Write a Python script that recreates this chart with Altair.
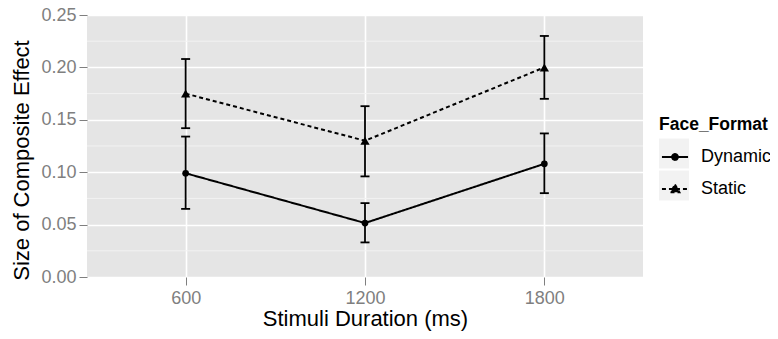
import altair as alt
import pandas as pd

durations = ["600", "1200", "1800"]
formats = ["Dynamic", "Static"]
dynamic_mean = [0.099, 0.0515, 0.108]
dynamic_low = [0.065, 0.033, 0.080]
dynamic_high = [0.134, 0.0705, 0.137]
static_mean = [0.175, 0.130, 0.200]
static_low = [0.142, 0.096, 0.170]
static_high = [0.208, 0.163, 0.230]
y_ticks = [0, 0.05, 0.10, 0.15, 0.20, 0.25]
y_minor = [0.025, 0.075, 0.125, 0.175, 0.225]

rows = []
for fmt, means, lows, highs in [
    ("Dynamic", dynamic_mean, dynamic_low, dynamic_high),
    ("Static", static_mean, static_low, static_high),
]:
    for d, m, lo, hi in zip(durations, means, lows, highs):
        rows.append({"duration": d, "format": fmt, "marker": fmt, "key": fmt,
                     "mean": m, "low": lo, "high": hi})
df = pd.DataFrame(rows)
minor_df = pd.DataFrame({"v": y_minor})

FONT = "Liberation Sans"
GREY = "#7F7F7F"
LEG_X = 572
LEG_Y = 101

x_enc = alt.X(
    "duration:O",
    sort=durations,
    scale=alt.Scale(type="point", padding=0.55),
    axis=alt.Axis(
        title="Stimuli Duration (ms)",
        labelAngle=0,
        grid=True,
        gridColor="white",
        gridWidth=1.6,
        domain=False,
        tickColor=GREY,
        tickSize=8,
        tickWidth=1,
        labelColor=GREY,
        labelFontSize=18,
        labelFont=FONT,
        labelPadding=4,
        titleFont=FONT,
        titleFontSize=22,
        titleFontWeight="normal",
        titleColor="black",
        titlePadding=1,
    ),
)
y_scale = alt.Scale(domain=[0, 0.25], nice=False, zero=True)
y_axis = alt.Axis(
    title="Size of Composite Effect",
    values=y_ticks,
    format=".2f",
    grid=True,
    gridColor="white",
    gridWidth=1.6,
    domain=False,
    tickColor=GREY,
    tickSize=8,
    tickWidth=1,
    labelColor=GREY,
    labelFontSize=18,
    labelFont=FONT,
    labelPadding=3,
    titleFont=FONT,
    titleFontSize=22,
    titleFontWeight="normal",
    titleColor="black",
    titlePadding=7,
    titleY=145,
)

base = alt.Chart(df)

minor = alt.Chart(minor_df).mark_rule(color="#F2F2F2", strokeWidth=1).encode(
    y=alt.Y("v:Q", scale=y_scale, axis=y_axis)
)

# invisible layer that only supplies the grey legend key backgrounds
keys = base.mark_square(opacity=0).encode(
    x=x_enc,
    y=alt.Y("mean:Q", scale=y_scale, axis=y_axis),
    fill=alt.Fill(
        "key:N",
        scale=alt.Scale(range=["#F2F2F2", "#F2F2F2"]),
        legend=alt.Legend(
            title="Face_Format",
            orient="none",
            legendX=LEG_X,
            legendY=LEG_Y,
            zindex=0,
            titleFont=FONT,
            titleFontSize=17.5,
            titleFontWeight="bold",
            titleOpacity=0,
            titlePadding=5,
            labelFont=FONT,
            labelFontSize=18,
            labelOpacity=0,
            labelOffset=10,
            symbolType="square",
            symbolSize=900,
            symbolOpacity=1,
            symbolStrokeWidth=0,
            symbolFillColor="#F2F2F2",
            rowPadding=2,
        ),
    ),
)

dynamic_path = "M-0.87,0H0.87M-0.2,0A0.2,0.2 0 1,0 0.2,0A0.2,0.2 0 1,0 -0.2,0Z"
static_path = "M-0.87,0H0.87M0,-0.3L0.3,0.22L-0.3,0.22Z"

lines = base.mark_line(color="black", strokeWidth=2).encode(
    x=x_enc,
    y=alt.Y("mean:Q", scale=y_scale, axis=y_axis),
    strokeDash=alt.StrokeDash(
        "format:N",
        scale=alt.Scale(domain=formats, range=[[1, 0], [4, 3]]),
        legend=alt.Legend(
            title="Face_Format",
            orient="none",
            legendX=LEG_X,
            legendY=LEG_Y,
            zindex=1,
            titleFont=FONT,
            titleFontSize=17.5,
            titleFontWeight="bold",
            titleColor="black",
            titlePadding=7.5,
            labelFont=FONT,
            labelFontSize=18,
            labelColor="black",
            labelOffset=10,
            symbolSize=900,
            symbolStrokeWidth=1.8,
            symbolStrokeColor="black",
            symbolFillColor="black",
            symbolType=alt.ExprRef(
                "datum.value === 'Dynamic' ? '" + dynamic_path + "' : '" + static_path + "'"
            ),
            rowPadding=7,
        ),
    ),
    detail="format:N",
)

err = base.mark_rule(color="black", strokeWidth=1.8).encode(
    x=x_enc,
    y=alt.Y("low:Q", scale=y_scale, axis=y_axis),
    y2="high:Q",
)
cap_low = base.mark_tick(color="black", thickness=1.8, size=9, opacity=1).encode(
    x=x_enc, y=alt.Y("low:Q", scale=y_scale, axis=y_axis)
)
cap_high = base.mark_tick(color="black", thickness=1.8, size=9, opacity=1).encode(
    x=x_enc, y=alt.Y("high:Q", scale=y_scale, axis=y_axis)
)
points = base.mark_point(filled=True, color="black", opacity=1).encode(
    x=x_enc,
    y=alt.Y("mean:Q", scale=y_scale, axis=y_axis),
    shape=alt.Shape(
        "marker:N",
        scale=alt.Scale(range=["circle", "triangle-up"]),
        legend=None,
    ),
    size=alt.Size(
        "marker:N",
        scale=alt.Scale(type="ordinal", range=[45, 85]),
        legend=None,
    ),
)

chart = (
    alt.layer(minor, keys, lines, err, cap_low, cap_high, points)
    .properties(
        width=556,
        height=262,
        background="white",
        autosize=alt.AutoSizeParams(type="none"),
        padding={"left": 79, "top": 7, "right": 127, "bottom": 62},
    )
    .configure_view(fill="#E5E5E5", stroke=None)
)

chart.save("out.html", embed_options={"renderer": "svg", "actions": False})
